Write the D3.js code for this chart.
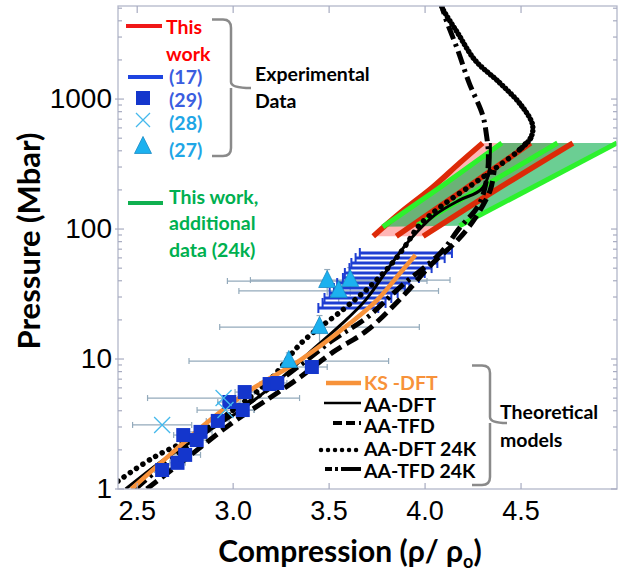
<!DOCTYPE html>
<html>
<head>
<meta charset="utf-8">
<script src="https://cdn.jsdelivr.net/npm/d3@7"></script>
<style>
  body { margin: 0; background: #fff; }
  .tick-label { font-family: 'Liberation Sans', Arial, sans-serif; fill: #000; }
  .title { font-family: Lato, 'Open Sans', sans-serif; font-weight: bold; fill: #000; }
  .leg { font-family: Lato, 'Open Sans', sans-serif; font-weight: bold; font-size: 19.5px; }
  .frame { fill: none; stroke: #b3b7ca; stroke-width: 1.3; }
  .tick { stroke: #a7abc0; stroke-width: 1.2; }
  .err { stroke: #93aabb; stroke-width: 1.2; fill: none; }
</style>
</head>
<body>
<script>
// ---- data (compression rho/rho0, pressure Mbar) ----
const xTicks = [2.5, 3.0, 3.5, 4.0, 4.5];
const yTicks = [1, 10, 100, 1000];

// theoretical models
const ksDft = [[2.47,1.0],[2.67,1.83],[2.88,3.4],[3.09,5.77],[3.35,9.82],[3.61,18.9],[3.75,28.4],[3.87,45.9],[3.95,63.1]];
const aaDft = [[2.44,1.0],[2.62,1.61],[2.83,2.56],[3.04,4.05],[3.24,6.89],[3.40,11.3],[3.56,18.3],[3.69,28.4],[3.82,52.8],[3.92,82.3],[4.05,128],[4.18,167],[4.29,200],[4.33,260],[4.34,459]];
const aaTfd = [[2.55,1.0],[2.78,1.83],[2.98,3.11],[3.19,5.01],[3.35,7.27],[3.52,11.3],[3.70,16.7],[3.88,30.0],[4.04,54.8],[4.17,82.3],[4.26,121],[4.34,200],[4.36,284]];
// AA-DFT 24K: lower branch and upper (dense) branch
const aaDft24k = [[2.40,1.15],[2.58,1.73],[2.79,2.51],[3.00,4.05],[3.19,6.89],[3.36,13.5],[3.57,23.8],[3.71,35.8],[3.82,52.8],[3.90,75.3],[3.97,107],[4.08,148],[4.25,222],[4.39,311],[4.49,405],[4.55,501]];
const aaDft24kTop = [[4.49,405],[4.55,501],[4.56,631],[4.50,899],[4.39,1328],[4.26,1995],[4.17,3218],[4.09,5012],[4.08,5600]];
const aaTfd24k = [[2.49,1.0],[2.72,1.93],[2.93,3.28],[3.14,5.29],[3.35,8.99],[3.52,14.0],[3.70,21.0],[3.87,35.8],[4.08,65.4],[4.18,102],[4.28,153],[4.32,238],[4.33,371],[4.32,528],[4.30,753],[4.23,1328],[4.17,2382],[4.11,4055],[4.09,5012],[4.08,5600]];

// this work (bounds + mean)
const workRedLow  = [[3.73,88],[3.87,133],[4.04,210],[4.18,322],[4.30,459]];
const workRedMid  = [[3.85,88],[4.20,200],[4.55,459]];
const workRedHigh = [[3.99,88],[4.37,200],[4.77,459]];
// this work, additional data (24k)
const work24kLow  = [[3.78,104],[4.08,210],[4.40,459]];
const work24kMid  = [[3.96,107],[4.69,459]];
const work24kHigh = [[4.18,106],[5.00,459]];

// experimental refs: [compression, pressure, compression error]
const ref17 = [[3.60,24.7,0.156],[3.63,27.0,0.164],[3.65,29.5,0.174],[3.68,32.2,0.177],[3.71,35.2,0.185],[3.73,38.4,0.188],[3.77,42.0,0.198],[3.79,45.9,0.208],[3.82,50.1,0.214],[3.84,54.8,0.224],[3.87,59.8,0.232],[3.90,65.4,0.24]];
const ref29 = [[2.63,1.40,0.04],[2.71,1.59,0.04],[2.75,1.83,0.08],[2.74,2.60,0.05],[2.83,2.75,0.06],[2.81,2.38,0.05],[2.92,3.34,0.06],[2.98,4.67,0.06],[3.05,4.05,0.06],[3.06,5.57,0.05],[3.19,6.42,0.05],[3.23,6.54,0.05],[3.41,8.68,0.08]];
const ref28 = [[2.63,3.11,0.154],[2.95,5.01,0.396],[2.96,4.05,0.148]];
// [compression, pressure, compression error, pressure error]
const ref27 = [[3.49,39.8,0.52,9],[3.61,40.5,0.52,10],[3.55,33.4,0.52,6],[3.45,17.6,0.52,4],[3.29,9.65,0.52,1.5]];

// ---- layout ----
const width = 631, height = 580;
const margin = {top: 6, right: 14, bottom: 91, left: 118};

const svg = d3.select('body').append('svg')
  .attr('width', width)
  .attr('height', height);

const xScale = d3.scaleLinear()
  .domain([2.4, 5.0])
  .range([margin.left, width - margin.right]);

const yScale = d3.scaleLog()
  .domain([1, 5200])
  .range([height - margin.bottom, margin.top]);

const x0 = margin.left, x1 = width - margin.right;
const y0 = height - margin.bottom, y1 = margin.top;

svg.append('clipPath').attr('id', 'plot')
  .append('rect')
  .attr('x', x0).attr('y', y1)
  .attr('width', x1 - x0).attr('height', y0 - y1);

const plot = svg.append('g').attr('clip-path', 'url(#plot)');

const line = d3.line()
  .x(d => xScale(d[0]))
  .y(d => yScale(d[1]))
  .curve(d3.curveCatmullRom.alpha(0.5));

const straight = d3.line()
  .x(d => xScale(d[0]))
  .y(d => yScale(d[1]));

// ---- frame & ticks ----
svg.append('rect').attr('class', 'frame')
  .attr('x', x0).attr('y', y1)
  .attr('width', x1 - x0).attr('height', y0 - y1);

const minor = [];
yTicks.forEach(t => { for (let k = 2; k <= 9; k++) if (t * k < 5200) minor.push(t * k); });

const ticks = svg.append('g');
minor.forEach(v => {
  ticks.append('line').attr('class', 'tick')
    .attr('x1', x0).attr('x2', x0 + 4).attr('y1', yScale(v)).attr('y2', yScale(v));
  ticks.append('line').attr('class', 'tick')
    .attr('x1', x1).attr('x2', x1 - 4).attr('y1', yScale(v)).attr('y2', yScale(v));
});
yTicks.forEach(v => {
  ticks.append('line').attr('class', 'tick')
    .attr('x1', x0 - 3).attr('x2', x0 + 6).attr('y1', yScale(v)).attr('y2', yScale(v));
  ticks.append('line').attr('class', 'tick')
    .attr('x1', x1).attr('x2', x1 - 6).attr('y1', yScale(v)).attr('y2', yScale(v));
});
xTicks.forEach(v => {
  ticks.append('line').attr('class', 'tick')
    .attr('x1', xScale(v)).attr('x2', xScale(v)).attr('y1', y0).attr('y2', y0 - 6);
  ticks.append('line').attr('class', 'tick')
    .attr('x1', xScale(v)).attr('x2', xScale(v)).attr('y1', y1).attr('y2', y1 + 7);
});

svg.append('g').selectAll('text')
  .data(yTicks).enter().append('text')
  .attr('class', 'tick-label')
  .attr('x', x0 - 6)
  .attr('y', d => yScale(d) + 9)
  .attr('text-anchor', 'end')
  .style('font-size', '28px')
  .text(d => d);

svg.append('g').selectAll('text')
  .data(xTicks).enter().append('text')
  .attr('class', 'tick-label')
  .attr('x', d => xScale(d))
  .attr('y', y0 + 31)
  .attr('text-anchor', 'middle')
  .style('font-size', '27px')
  .text(d => d.toFixed(1));

// axis titles
svg.append('text').attr('class', 'title')
  .attr('transform', 'rotate(-90)')
  .attr('x', -241).attr('y', 40)
  .attr('text-anchor', 'middle')
  .style('font-size', '31px')
  .text('Pressure (Mbar)');

const xt = svg.append('text').attr('class', 'title')
  .attr('x', 350).attr('y', 562)
  .attr('text-anchor', 'middle')
  .style('font-size', '30px');
xt.append('tspan').text('Compression (ρ/ ρ');
xt.append('tspan').attr('dy', 6).style('font-size', '18px').text('o');
xt.append('tspan').attr('dy', -6).text(')');

// ---- error bars of refs 28/27/29 ----
const errG = plot.append('g');
function hErr(v, p, e) {
  const y = yScale(p);
  errG.append('line').attr('class', 'err')
    .attr('x1', xScale(v - e)).attr('x2', xScale(v + e)).attr('y1', y).attr('y2', y);
  [v - e, v + e].forEach(c => errG.append('line').attr('class', 'err')
    .attr('x1', xScale(c)).attr('x2', xScale(c)).attr('y1', y - 3).attr('y2', y + 3));
}
ref29.forEach(d => hErr(d[0], d[1], d[2]));
ref28.forEach(d => hErr(d[0], d[1], d[2]));
ref27.forEach(d => {
  hErr(d[0], d[1], d[2]);
  const x = xScale(d[0]);
  errG.append('line').attr('class', 'err')
    .attr('x1', x).attr('x2', x).attr('y1', yScale(d[1] - d[3])).attr('y2', yScale(d[1] + d[3]));
  errG.append('line').attr('class', 'err')
    .attr('x1', x - 3).attr('x2', x + 3).attr('y1', yScale(d[1] + d[3])).attr('y2', yScale(d[1] + d[3]));
});

// ---- this work bands ----
plot.append('path')
  .attr('d', straight(workRedLow.concat(workRedHigh.slice().reverse())) + 'Z')
  .attr('fill', '#ffb6b6');
plot.append('path')
  .attr('d', straight(work24kLow.concat(work24kHigh.slice().reverse())) + 'Z')
  .attr('fill', '#10b050')
  .attr('fill-opacity', 0.62);

[workRedLow, workRedMid, workRedHigh].forEach(s => plot.append('path')
  .attr('d', line(s)).attr('fill', 'none')
  .attr('stroke', '#dd2a08').attr('stroke-width', 5.5));
[work24kLow, work24kMid, work24kHigh].forEach(s => plot.append('path')
  .attr('d', straight(s)).attr('fill', 'none')
  .attr('stroke', '#2cf22c').attr('stroke-width', 5));

// ---- ref 17: horizontal bars ----
const r17 = plot.append('g').attr('stroke', '#1e3ed2').attr('stroke-width', 3);
ref17.forEach(d => {
  const y = yScale(d[1]);
  r17.append('line')
    .attr('x1', xScale(d[0] - d[2])).attr('x2', xScale(d[0] + d[2])).attr('y1', y).attr('y2', y);
  [d[0] - d[2], d[0] + d[2]].forEach(c => r17.append('line')
    .attr('stroke-width', 2)
    .attr('x1', xScale(c)).attr('x2', xScale(c)).attr('y1', y - 5).attr('y2', y + 5));
});

// ---- theory curves ----
const styles = {
  aaDft:       {dash: null,        w: 3},
  aaTfd:       {dash: '13 6',      w: 5},
  aaDft24k:    {dash: '0.01 7.5',  w: 5.5, cap: 'round'},
  aaDft24kTop: {dash: '0.01 4',    w: 5.5, cap: 'round'},
  aaTfd24k:    {dash: '14 5 3 5',  w: 5}
};
[[aaTfd, styles.aaTfd], [aaTfd24k, styles.aaTfd24k], [aaDft24k, styles.aaDft24k],
 [aaDft24kTop, styles.aaDft24kTop], [aaDft, styles.aaDft]]
  .forEach(([s, st]) => plot.append('path')
    .attr('d', line(s)).attr('fill', 'none')
    .attr('stroke', '#000').attr('stroke-width', st.w)
    .attr('stroke-dasharray', st.dash)
    .attr('stroke-linecap', st.cap || 'butt'));

plot.append('path')
  .attr('d', line(ksDft)).attr('fill', 'none')
  .attr('stroke', '#f7923a').attr('stroke-width', 4.5);

// ---- markers ----
const sq = 14;
plot.append('g').selectAll('rect')
  .data(ref29).enter().append('rect')
  .attr('x', d => xScale(d[0]) - sq / 2)
  .attr('y', d => yScale(d[1]) - sq / 2)
  .attr('width', sq).attr('height', sq)
  .attr('fill', '#1436cc');

const cross = (x, y, r) => `M${x - r},${y - r}L${x + r},${y + r}M${x - r},${y + r}L${x + r},${y - r}`;
plot.append('g').selectAll('path')
  .data(ref28).enter().append('path')
  .attr('d', d => cross(xScale(d[0]), yScale(d[1]), 8))
  .attr('stroke', '#45b9ec').attr('stroke-width', 1.3);

const tri = (x, y, s) => `M${x},${y - s * 0.62}L${x + s / 2},${y + s * 0.38}L${x - s / 2},${y + s * 0.38}Z`;
plot.append('g').selectAll('path')
  .data(ref27).enter().append('path')
  .attr('d', d => tri(xScale(d[0]), yScale(d[1]), 17))
  .attr('fill', '#1cb1ef').attr('stroke', '#1889c4').attr('stroke-width', 0.8);

// ---- legend: experimental ----
const leg = svg.append('g');
leg.append('line').attr('x1', 126).attr('x2', 162).attr('y1', 26).attr('y2', 26)
  .attr('stroke', '#f01818').attr('stroke-width', 4);
leg.append('text').attr('class', 'leg').attr('x', 166).attr('y', 34).attr('fill', '#ff0000').text('This');
leg.append('text').attr('class', 'leg').attr('x', 166).attr('y', 61).attr('fill', '#ff0000').text('work');

leg.append('line').attr('x1', 128).attr('x2', 163).attr('y1', 77).attr('y2', 77)
  .attr('stroke', '#1e44e0').attr('stroke-width', 4);
leg.append('text').attr('class', 'leg').attr('x', 169).attr('y', 84).attr('fill', '#3a5de0').text('(17)');
leg.append('rect').attr('x', 136).attr('y', 91).attr('width', 14).attr('height', 14).attr('fill', '#1436cc');
leg.append('text').attr('class', 'leg').attr('x', 169).attr('y', 107).attr('fill', '#3a5de0').text('(29)');
leg.append('path').attr('d', cross(143, 120, 7)).attr('stroke', '#45b9ec').attr('stroke-width', 1.3);
leg.append('text').attr('class', 'leg').attr('x', 169).attr('y', 130).attr('fill', '#1fa6e6').text('(28)');
leg.append('path').attr('d', tri(143, 147, 17)).attr('fill', '#1cb1ef').attr('stroke', '#1889c4').attr('stroke-width', 0.8);
leg.append('text').attr('class', 'leg').attr('x', 169).attr('y', 157).attr('fill', '#1fa6e6').text('(27)');

leg.append('path')
  .attr('d', 'M212,19.5 L223,19.5 Q231,19.5 231,28 L231,82 Q231,88 251,88 M231,88 Q231,94 231,98 L231,148 Q231,156 223,156 L212,156')
  .attr('fill', 'none').attr('stroke', '#8a8a8a').attr('stroke-width', 2.5);
leg.append('text').attr('class', 'leg').attr('x', 255).attr('y', 81).attr('fill', '#000').text('Experimental');
leg.append('text').attr('class', 'leg').attr('x', 255).attr('y', 108).attr('fill', '#000').text('Data');

leg.append('line').attr('x1', 128).attr('x2', 163).attr('y1', 203).attr('y2', 203)
  .attr('stroke', '#10b050').attr('stroke-width', 4);
['This work,', 'additional', 'data (24k)'].forEach((t, i) => leg.append('text')
  .attr('class', 'leg').attr('x', 169).attr('y', [204, 230, 257][i]).attr('fill', '#00b050').text(t));

// ---- legend: theoretical ----
const tl = svg.append('g');
const theo = [
  {label: 'KS -DFT',    color: '#f7923a', x1: 326, y: 383, ty: 390, w: 4.5, dash: null},
  {label: 'AA-DFT',     color: '#000', x1: 324, y: 403, ty: 412, w: 2.5, dash: null},
  {label: 'AA-TFD',     color: '#000', x1: 333, y: 423, ty: 433, w: 4, dash: '9 4'},
  {label: 'AA-DFT 24K', color: '#000', x1: 321, y: 450, ty: 456, w: 4.5, dash: '0.01 7', cap: 'round'},
  {label: 'AA-TFD 24K', color: '#000', x1: 325, y: 469, ty: 478, w: 4, dash: '7 3 3 3 30'}
];
theo.forEach(d => {
  tl.append('line').attr('x1', d.x1).attr('x2', 361).attr('y1', d.y).attr('y2', d.y)
    .attr('stroke', d.color).attr('stroke-width', d.w)
    .attr('stroke-dasharray', d.dash).attr('stroke-linecap', d.cap || 'butt');
  tl.append('text').attr('class', 'leg').attr('x', 364).attr('y', d.ty)
    .attr('fill', d.label === 'KS -DFT' ? '#f7923a' : '#000').text(d.label);
});
tl.append('path')
  .attr('d', 'M472,365.5 L482,365.5 Q490,365.5 490,373 L490,417 Q490,423 507,423 M490,423 Q490,429 490,432 L490,477 Q490,485 482,485 L472,485')
  .attr('fill', 'none').attr('stroke', '#8a8a8a').attr('stroke-width', 2.5);
tl.append('text').attr('class', 'leg').attr('x', 500).attr('y', 419).attr('fill', '#000').text('Theoretical');
tl.append('text').attr('class', 'leg').attr('x', 500).attr('y', 447).attr('fill', '#000').text('models');
</script>
</body>
</html>
